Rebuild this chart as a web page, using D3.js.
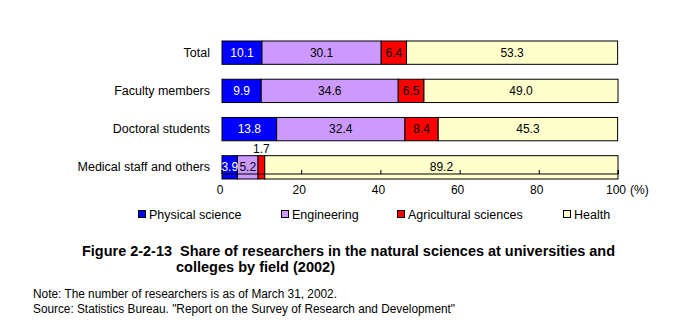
<!DOCTYPE html>
<html><head><meta charset="utf-8">
<script src="https://cdn.jsdelivr.net/npm/d3@7"></script>
<style>body{margin:0;background:#fff}svg{display:block;font-family:"Liberation Sans",Arial,sans-serif}text{white-space:pre}</style>
</head><body><svg id="c" width="679" height="332"></svg>
<script>
const categories = ["Total", "Faculty members", "Doctoral students", "Medical staff and others"];
const seriesNames = ["Physical science", "Engineering", "Agricultural sciences", "Health"];
const physical = [10.1, 9.9, 13.8, 3.9];
const engineering = [30.1, 34.6, 32.4, 5.2];
const agricultural = [6.4, 6.5, 8.4, 1.7];
const health = [53.3, 49.0, 45.3, 89.2];
const tickValues = [0, 20, 40, 60, 80, 100];
const colors = ["#0000FF", "#CC99FF", "#FF0000", "#FFFFCC"];
const labelColors = ["#FFFFFF", "#000000", "#000000", "#000000"];

const svg = d3.select("#c");
const x = d3.scaleLinear().domain([0, 100]).range([222, 618]);
const y = d3.scaleBand().domain(categories).range([41, 179]).paddingInner(0.39).paddingOuter(0);

const seriesVals = [physical, engineering, agricultural, health];
const rows = categories.map((c, i) => {
  let acc = 0;
  return seriesVals.map((s, k) => { const d = {cat: c, k, v: s[i], x0: acc, x1: acc + s[i]}; acc += s[i]; return d; });
});

const g = svg.append("g");
rows.forEach(r => {
  g.selectAll(null).data(r).enter().append("rect")
    .attr("x", d => x(d.x0)).attr("y", d => y(d.cat))
    .attr("width", d => x(d.x1) - x(d.x0)).attr("height", y.bandwidth())
    .attr("fill", d => colors[d.k]).attr("stroke", "#000").attr("stroke-width", 1);
  g.selectAll(null).data(r).enter().append("text")
    .attr("x", d => x((d.x0 + d.x1) / 2))
    .attr("y", d => (d.cat === "Medical staff and others" && d.k === 2) ? y(d.cat) - 3 : y(d.cat) + y.bandwidth() / 2 + 4)
    .attr("text-anchor", "middle").attr("font-size", 12)
    .attr("fill", d => (d.cat === "Medical staff and others" && d.k === 2) ? "#000" : labelColors[d.k])
    .text(d => d.v.toFixed(1));
});

// category labels
svg.append("g").selectAll("text").data(categories).enter().append("text")
  .attr("x", 210).attr("y", d => y(d) + y.bandwidth() / 2 + 4)
  .attr("text-anchor", "end").attr("font-size", 12.5).text(d => d);

// x axis
const axisY = 174;
const ax = svg.append("g").attr("transform", `translate(0,${axisY})`)
  .call(d3.axisTop(x).tickValues(tickValues).tickSize(4).tickFormat(""));
ax.select(".domain").attr("stroke", "#000").attr("d", `M${x(0)},-4V0H${x(100)}V-4`);
ax.selectAll(".tick line").attr("stroke", "#000");
svg.append("g").selectAll("text").data(tickValues).enter().append("text")
  .attr("x", d => x(d) - 2).attr("y", 194).attr("text-anchor", "middle").attr("font-size", 12)
  .text(d => d);
svg.append("text").attr("x", 630).attr("y", 194).attr("font-size", 12).text("(%)");

// legend
const legX = [138, 281, 397, 563];
const leg = svg.append("g");
seriesNames.forEach((n, i) => {
  leg.append("rect").attr("x", legX[i] + 0.5).attr("y", 210.5).attr("width", 7).attr("height", 7)
    .attr("fill", colors[i]).attr("stroke", "#000").attr("stroke-width", 1);
  leg.append("text").attr("x", legX[i] + 11).attr("y", 219).attr("font-size", 12.5).text(n);
});

// title
svg.append("text").attr("x", 82).attr("y", 256).attr("font-size", 14).attr("font-weight", "bold")
  .attr("textLength", 533).attr("lengthAdjust", "spacingAndGlyphs")
  .text("Figure 2-2-13  Share of researchers in the natural sciences at universities and");
svg.append("text").attr("x", 176).attr("y", 272).attr("font-size", 14).attr("font-weight", "bold")
  .attr("textLength", 159).attr("lengthAdjust", "spacingAndGlyphs")
  .text("colleges by field (2002)");
svg.append("text").attr("x", 33).attr("y", 298).attr("font-size", 12)
  .attr("textLength", 304).attr("lengthAdjust", "spacingAndGlyphs")
  .text("Note: The number of researchers is as of March 31, 2002.");
svg.append("text").attr("x", 33).attr("y", 313).attr("font-size", 12)
  .attr("textLength", 422).attr("lengthAdjust", "spacingAndGlyphs")
  .text("Source: Statistics Bureau. \"Report on the Survey of Research and Development\"");
</script></body></html>
